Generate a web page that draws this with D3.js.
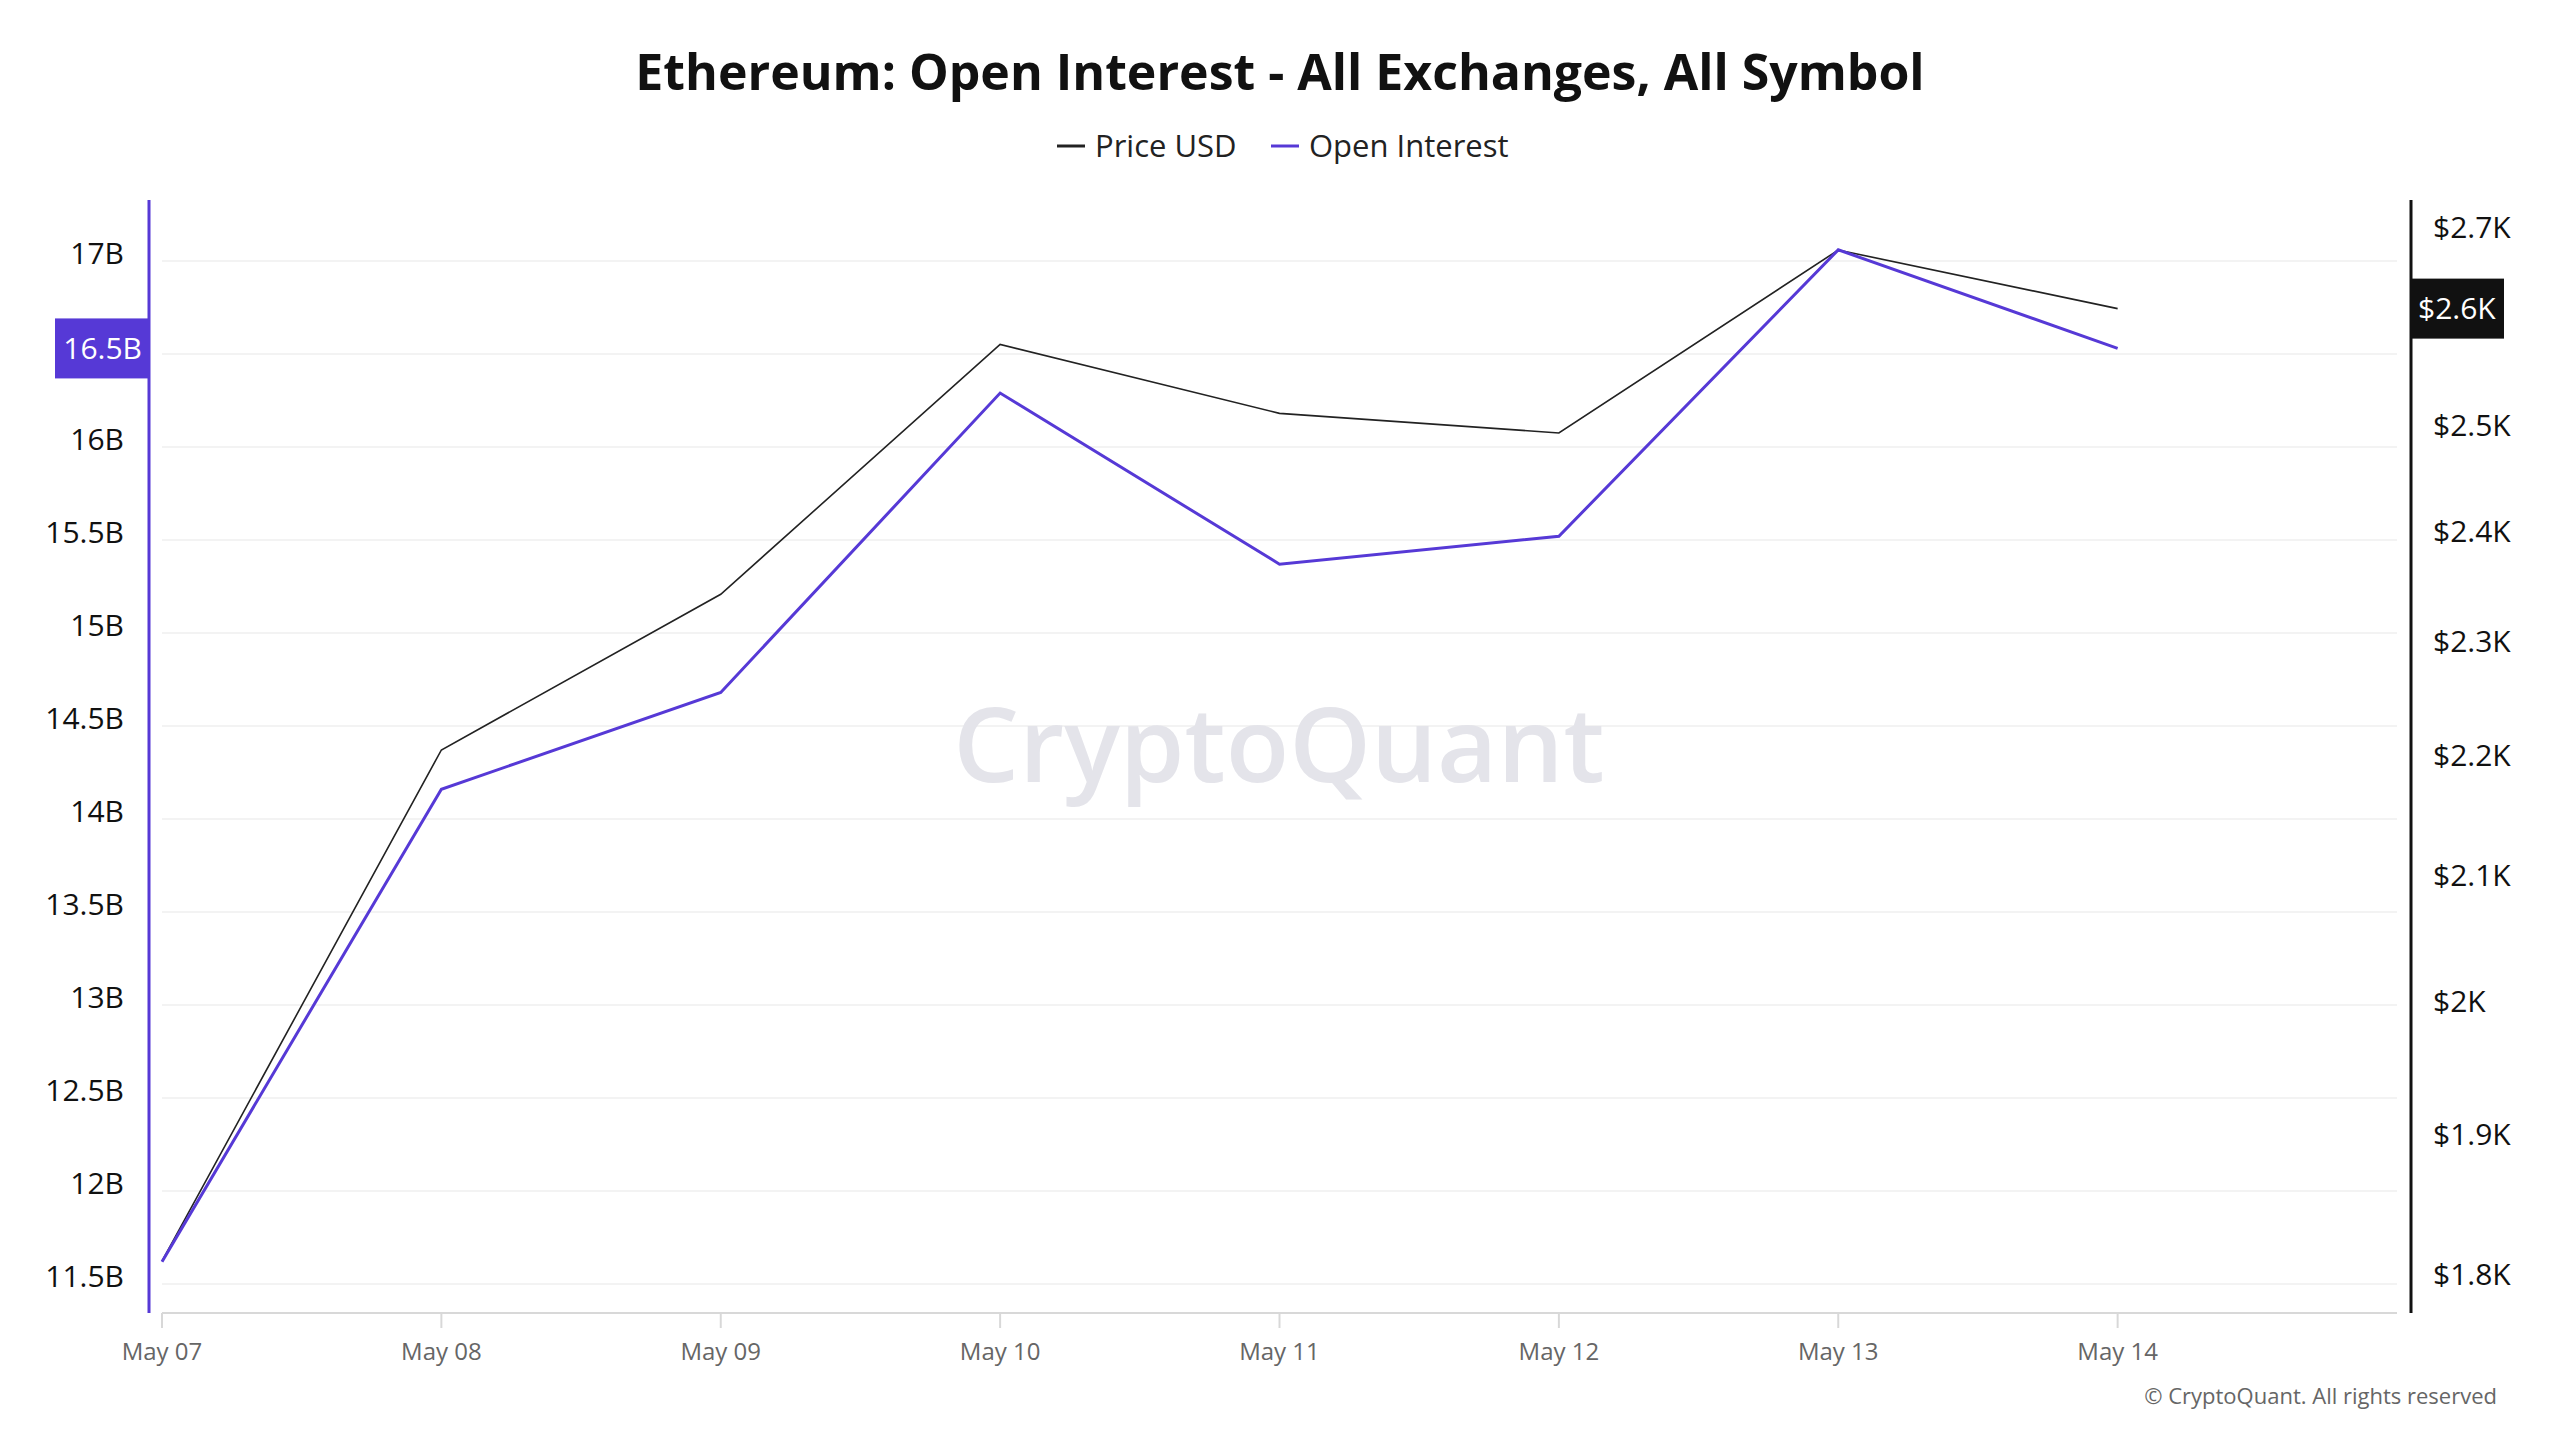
<!DOCTYPE html>
<html><head><meta charset="utf-8">
<script src="https://cdn.jsdelivr.net/npm/d3@7"></script>
<style>body{margin:0;background:#fff}svg{font-family:"Open Sans",sans-serif}</style>
</head><body><svg id="c" width="2560" height="1440"></svg>
<script>
const dates = ["2024-05-07","2024-05-08","2024-05-09","2024-05-10","2024-05-11","2024-05-12","2024-05-13","2024-05-14"];
const openInterest = [11.62e9,14.16e9,14.68e9,16.29e9,15.37e9,15.52e9,17.06e9,16.53e9];
const priceUSD = [1809,2205,2342,2580,2512,2493,2676,2616];
const leftTicks = [11.5e9,12e9,12.5e9,13e9,13.5e9,14e9,14.5e9,15e9,15.5e9,16e9,16.5e9,17e9];
const rightTicks = [1800,1900,2000,2100,2200,2300,2400,2500,2600,2700];

const svg = d3.select("#c");
const parse = d3.utcParse("%Y-%m-%d");
const X0=162, X1=2397, yTop=200, yBot=1313;
const x = d3.scaleUtc().domain([parse("2024-05-07"), parse("2024-05-15")]).range([X0, X1]);
const yL = d3.scaleLinear().domain([11.5e9,17e9]).range([1284,261]);
const yR = d3.scaleLog().domain([1800,2700]).range([1274,227]);
const fmtB = v => d3.format("~g")(v/1e9)+"B";
const fmtK = v => "$"+d3.format("~g")(v/1000)+"K";
const lastOI = openInterest[openInterest.length-1], lastP = priceUSD[priceUSD.length-1];

svg.append("g").selectAll("line").data(leftTicks).join("line")
  .attr("x1",X0).attr("x2",X1).attr("y1",d=>yL(d)).attr("y2",d=>yL(d))
  .attr("stroke","#f3f3f3").attr("stroke-width",2);

svg.append("text").attr("x",1279).attr("y",782).attr("text-anchor","middle")
  .attr("font-size",104).attr("font-weight",600).attr("fill","#e4e4ea").text("CryptoQuant");

svg.append("line").attr("x1",X0).attr("x2",X1).attr("y1",yBot).attr("y2",yBot).attr("stroke","#d8d8d8").attr("stroke-width",2);
const xg = svg.append("g").selectAll("g").data(dates).join("g").attr("transform",d=>`translate(${x(parse(d))},0)`);
xg.append("line").attr("y1",yBot).attr("y2",yBot+15).attr("stroke","#d8d8d8").attr("stroke-width",2);
xg.append("text").attr("y",1360).attr("text-anchor","middle").attr("font-size",24).attr("fill","#666")
  .text(d=>d3.utcFormat("%b %d")(parse(d)));

svg.append("line").attr("x1",149).attr("x2",149).attr("y1",yTop).attr("y2",yBot).attr("stroke","#5639d6").attr("stroke-width",3);
// tick labels hidden behind the last-value tag are omitted (the tag shows them)
svg.append("g").selectAll("text").data(leftTicks.filter(v=>Math.abs(yL(v)-yL(lastOI))>32)).join("text")
  .attr("x",124).attr("y",d=>yL(d)).attr("dy","0.1em").attr("text-anchor","end")
  .attr("font-size",30).attr("fill","#111").text(fmtB);

svg.append("line").attr("x1",2411).attr("x2",2411).attr("y1",yTop).attr("y2",yBot).attr("stroke","#111").attr("stroke-width",3);
svg.append("g").selectAll("text").data(rightTicks.filter(v=>Math.abs(yR(v)-yR(lastP))>32)).join("text")
  .attr("x",2433).attr("y",d=>yR(d)).attr("dy","0.35em")
  .attr("font-size",30).attr("fill","#111").text(fmtK);

const pts = dates.map((d,i)=>({t:parse(d),oi:openInterest[i],p:priceUSD[i]}));
svg.append("path").datum(pts).attr("fill","none").attr("stroke","#222").attr("stroke-width",1.6)
  .attr("d",d3.line().x(d=>x(d.t)).y(d=>yR(d.p)));
svg.append("path").datum(pts).attr("fill","none").attr("stroke","#5639d6").attr("stroke-width",3)
  .attr("d",d3.line().x(d=>x(d.t)).y(d=>yL(d.oi)));

svg.append("rect").attr("x",55).attr("y",yL(lastOI)-30).attr("width",94).attr("height",60).attr("fill","#5639d6");
svg.append("text").attr("x",142).attr("y",yL(lastOI)).attr("dy","0.35em").attr("text-anchor","end")
  .attr("font-size",30).attr("fill","#fff").text(d3.format(".1f")(lastOI/1e9)+"B");
svg.append("rect").attr("x",2412).attr("y",yR(lastP)-30).attr("width",92).attr("height",60).attr("fill","#111");
svg.append("text").attr("x",2418).attr("y",yR(lastP)).attr("dy","0.35em")
  .attr("font-size",30).attr("fill","#fff").text("$"+d3.format(".1f")(lastP/1000)+"K");

svg.append("text").attr("x",1280).attr("y",90).attr("text-anchor","middle").attr("font-size",50)
  .attr("font-weight",700).attr("fill","#111").text("Ethereum: Open Interest - All Exchanges, All Symbol");
const leg = [{n:"Price USD",c:"#222",x:1057},{n:"Open Interest",c:"#5639d6",x:1271}];
leg.forEach(l=>{
  svg.append("line").attr("x1",l.x).attr("x2",l.x+28).attr("y1",146).attr("y2",146).attr("stroke",l.c).attr("stroke-width",3);
  svg.append("text").attr("x",l.x+38).attr("y",146).attr("dy","0.35em").attr("font-size",31).attr("fill","#222").text(l.n);
});
svg.append("text").attr("x",2497).attr("y",1404).attr("text-anchor","end").attr("font-size",22).attr("fill","#666")
  .text("© CryptoQuant. All rights reserved");
</script></body></html>
